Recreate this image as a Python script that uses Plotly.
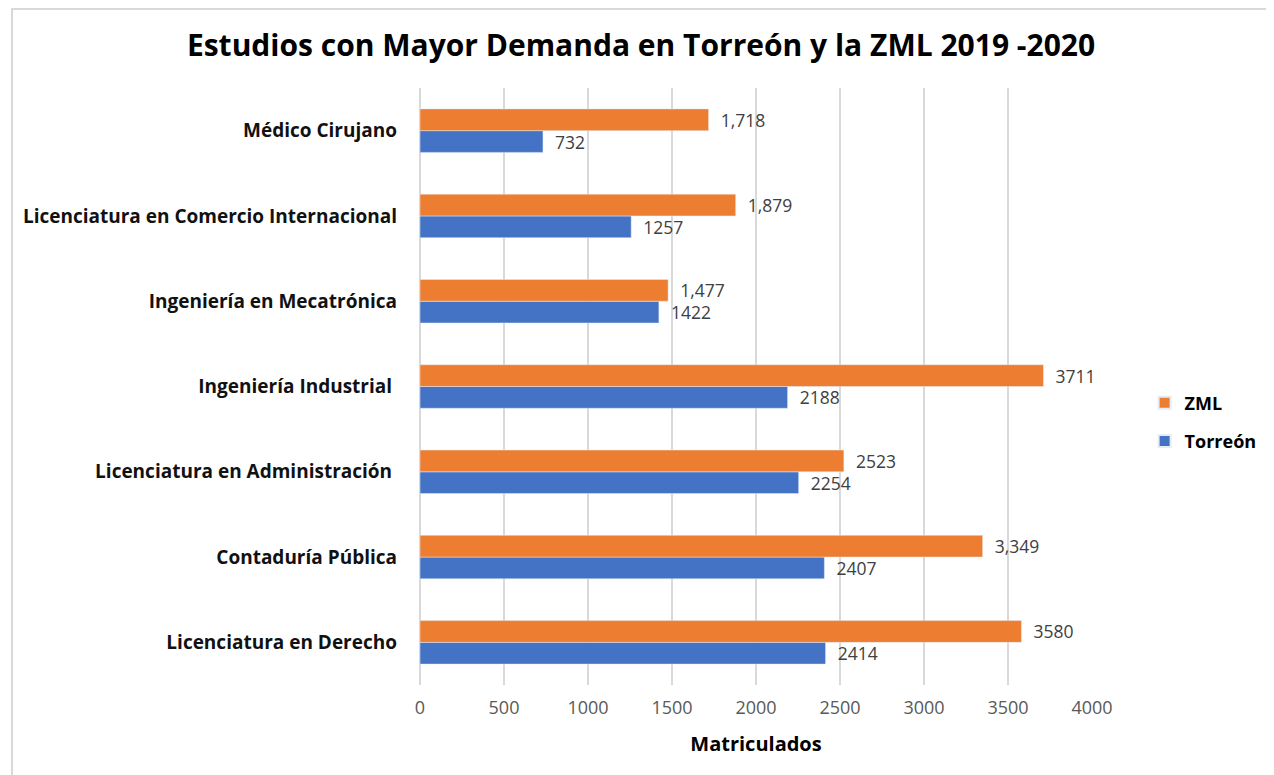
import plotly.graph_objects as go

categories = [
    "Licenciatura en Derecho",
    "Contaduría Pública",
    "Licenciatura en Administración ",
    "Ingeniería Industrial ",
    "Ingeniería en Mecatrónica",
    "Licenciatura en Comercio Internacional",
    "Médico Cirujano",
]
torreon = [2414, 2407, 2254, 2188, 1422, 1257, 732]
zml = [3580, 3349, 2523, 3711, 1477, 1879, 1718]
torreon_labels = ["2414", "2407", "2254", "2188", "1422", "1257", "732"]
zml_labels = ["3580", "3,349", "2523", "3711", "1,477", "1,879", "1,718"]
x_ticks = [0, 500, 1000, 1500, 2000, 2500, 3000, 3500, 4000]

FONT = "Open Sans"
BLUE = "#4472C4"
ORANGE = "#ED7D31"

# The page puts the figure at an 8px offset (body margin)
OFF = 8
W, H = 1274 - OFF, 775 - OFF
# plot area in page pixels
L, R, T, B = 420 - OFF, 1097 - OFF, 88 - OFF, 685 - OFF
pw, ph = R - L, B - T

def px(x):
    return (x - OFF - L) / pw

def py(y):
    return (B - (y - OFF)) / ph

fig = go.Figure()
fig.add_trace(go.Bar(
    y=categories, x=torreon, name="<b>Torreón</b>", orientation="h",
    marker=dict(color=BLUE), legendgroup="t", legendrank=2,
    text=["  " + t for t in torreon_labels], textposition="outside",
    textfont=dict(family=FONT, size=17.5, color="#404040"),
    cliponaxis=False,
))
fig.add_trace(go.Bar(
    y=categories, x=zml, name="<b>ZML</b>", orientation="h",
    marker=dict(color=ORANGE), legendgroup="z", legendrank=1,
    text=["  " + t for t in zml_labels], textposition="outside",
    textfont=dict(family=FONT, size=17.5, color="#404040"),
    cliponaxis=False,
))

fig.update_layout(
    width=W, height=H,
    margin=dict(l=L, r=W - R, t=T, b=H - B),
    paper_bgcolor="white", plot_bgcolor="white",
    barmode="group", bargap=0.49, bargroupgap=0,
    uniformtext=dict(minsize=17, mode="show"),
    title=dict(
        text="<b>Estudios con Mayor Demanda en Torreón y la ZML 2019 -2020</b>",
        x=0.5, xanchor="center", y=1 - (45 - OFF) / H, yanchor="middle",
        font=dict(family=FONT, size=30, color="#000000"),
    ),
    xaxis=dict(
        range=[0, 4000], tickvals=x_ticks, showgrid=True,
        gridcolor="#d9d9d9", gridwidth=2, zeroline=True, zerolinecolor="#d9d9d9",
        zerolinewidth=2,
        tickfont=dict(family=FONT, size=18, color="#595959"),
        ticks="", ticklen=0, ticklabelstandoff=10,
        title=dict(text="<b>Matriculados</b>", font=dict(family=FONT, size=20, color="#000000"),
                   standoff=18),
    ),
    yaxis=dict(
        categoryorder="array", categoryarray=categories,
        tickfont=dict(family=FONT, size=19, color="#111111"),
        ticklabelstandoff=22, showgrid=False,
        tickprefix="<b>", ticksuffix="</b>",
    ),
    legend=dict(
        x=px(1150), xanchor="left", y=py(422), yanchor="middle",
        traceorder="grouped",
        font=dict(family=FONT, size=18, color="#000000"),
        itemsizing="constant", tracegroupgap=12,
        bgcolor="rgba(0,0,0,0)",
    ),
    showlegend=True,
)

# Thin border on top and left edges of the image
fig.add_shape(type="line", xref="paper", yref="paper",
              x0=px(8), x1=px(1274), y0=py(9), y1=py(9),
              line=dict(color="#d9d9d9", width=2))
fig.add_shape(type="line", xref="paper", yref="paper",
              x0=px(9), x1=px(9), y0=py(8), y1=py(775),
              line=dict(color="#d9d9d9", width=2))

fig.write_html("out.html")
